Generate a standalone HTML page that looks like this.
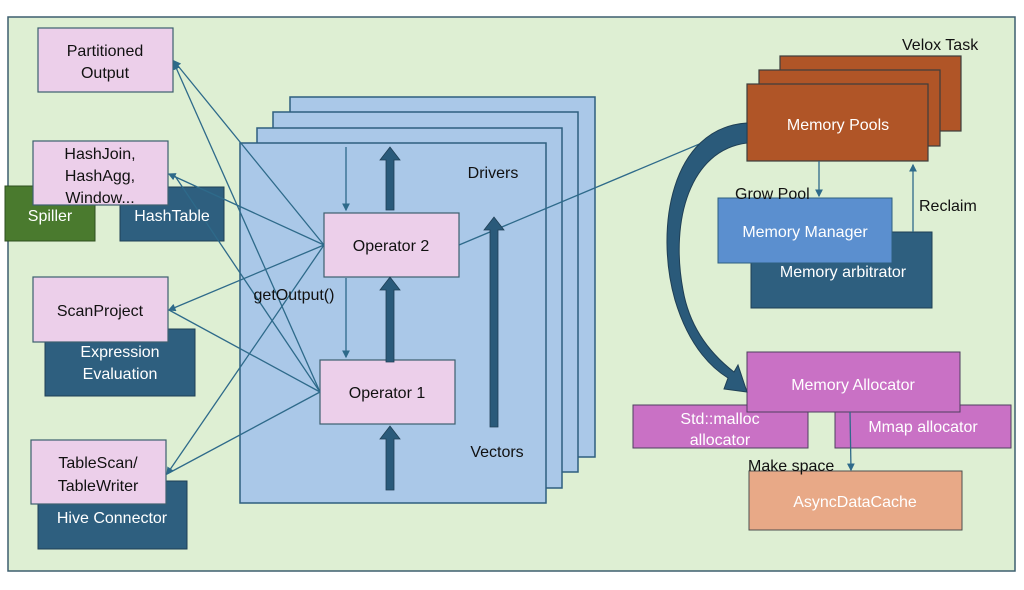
<!DOCTYPE html>
<html><head><meta charset="utf-8"><style>
body{margin:0;background:#fff;}
svg{display:block;font-family:"Liberation Sans",sans-serif;}
</style></head><body>
<svg width="1024" height="590" viewBox="0 0 1024 590">
<defs>
<marker id="a" markerWidth="6" markerHeight="6" refX="5" refY="3" orient="auto"><path d="M0,0 L6,3 L0,6 z" fill="#2e6a8a"/></marker>
</defs>
<rect x="8" y="17" width="1007" height="554" fill="#deefd3" stroke="#3d5f6f" stroke-width="1.5"/>

<g fill="#aac8e8" stroke="#2e5f7f" stroke-width="1.5">
<rect x="290" y="97" width="305" height="360"/>
<rect x="273" y="112" width="305" height="360"/>
<rect x="257" y="128" width="305" height="360"/>
<rect x="240" y="143" width="306" height="360"/>
</g>

<rect x="5" y="186" width="90" height="55" fill="#4a7a2e" stroke="#2f4f1f"/>
<rect x="120" y="187" width="104" height="54" fill="#2e5f7f" stroke="#1f3f55"/>
<rect x="45" y="329" width="150" height="67" fill="#2e5f7f" stroke="#1f3f55"/>
<rect x="38" y="481" width="149" height="68" fill="#2e5f7f" stroke="#1f3f55"/>
<g fill="#eccfea" stroke="#3d5f6f" stroke-width="1.2">
<rect x="38" y="28" width="135" height="64"/>
<rect x="33" y="141" width="135" height="64"/>
<rect x="33" y="277" width="135" height="65"/>
<rect x="31" y="440" width="135" height="64"/>
<rect x="324" y="213" width="135" height="64"/>
<rect x="320" y="360" width="135" height="64"/>
</g>

<g stroke="#2e6a8a" stroke-width="1.3" fill="none">
<line x1="324" y1="245" x2="174" y2="61" marker-end="url(#a)"/>
<line x1="320" y1="392" x2="174" y2="63" marker-end="url(#a)"/>
<line x1="324" y1="245" x2="169" y2="174" marker-end="url(#a)"/>
<line x1="320" y1="392" x2="175" y2="176"/>
<line x1="324" y1="245" x2="169" y2="310" marker-end="url(#a)"/>
<line x1="320" y1="392" x2="169" y2="310"/>
<line x1="324" y1="245" x2="167" y2="474" marker-end="url(#a)"/>
<line x1="320" y1="392" x2="167" y2="474"/>
<line x1="459" y1="245" x2="747" y2="124"/>
<line x1="346" y1="147" x2="346" y2="210" marker-end="url(#a)"/>
<line x1="346" y1="278" x2="346" y2="357" marker-end="url(#a)"/>
</g>

<g fill="#2a5a7a" stroke="#1f3f55" stroke-width="0.8">
<path d="M386,210 L386,160 L380,160 L390,147 L400,160 L394,160 L394,210 z"/>
<path d="M386,362 L386,290 L380,290 L390,277 L400,290 L394,290 L394,362 z"/>
<path d="M386,490 L386,439 L380,439 L390,426 L400,439 L394,439 L394,490 z"/>
<path d="M490,427 L490,230 L484,230 L494,217 L504,230 L498,230 L498,427 z"/>
</g>

<g font-size="16" text-anchor="middle" fill="#111">
<text x="105" y="56">Partitioned</text><text x="105" y="78">Output</text>
<text x="100" y="159">HashJoin,</text><text x="100" y="181">HashAgg,</text><text x="100" y="203">Window...</text>
<text x="100" y="316">ScanProject</text>
<text x="98" y="468">TableScan/</text><text x="98" y="491">TableWriter</text>
<text x="391" y="251">Operator 2</text>
<text x="387" y="398">Operator 1</text>
<text x="493" y="178">Drivers</text>
<text x="497" y="457">Vectors</text>
<text x="294" y="300">getOutput()</text>
</g>
<g font-size="16" text-anchor="middle" fill="#fff">
<text x="50" y="221">Spiller</text>
<text x="172" y="221">HashTable</text>
<text x="120" y="357">Expression</text><text x="120" y="379">Evaluation</text>
<text x="112" y="523">Hive Connector</text>
</g>

<g fill="#b05527" stroke="#3d3d3d" stroke-width="1.2">
<rect x="780" y="56" width="181" height="75"/>
<rect x="759" y="70" width="181" height="76"/>
<rect x="747" y="84" width="181" height="77"/>
</g>
<rect x="751" y="232" width="181" height="76" fill="#2e5f7f" stroke="#1f3f55"/>
<rect x="718" y="198" width="174" height="65" fill="#5b8fcf" stroke="#2e5f7f"/>
<rect x="633" y="405" width="175" height="43" fill="#c971c5" stroke="#4f3f5f"/>
<rect x="835" y="405" width="176" height="43" fill="#c971c5" stroke="#4f3f5f"/>
<rect x="747" y="352" width="213" height="60" fill="#c971c5" stroke="#4f3f5f"/>
<rect x="749" y="471" width="213" height="59" fill="#e8a987" stroke="#4f4f4f"/>

<path d="M747,123 C670,128 655,230 675,300 C690,350 715,370 728,378 L724,389 L747,392 L738,365 L734,372 C712,355 690,330 683,290 C670,220 690,150 747,143 z" fill="#2a5a7a" stroke="#1f3f55" stroke-width="1"/>

<g stroke="#2e6a8a" stroke-width="1.3" fill="none">
<line x1="819" y1="161" x2="819" y2="196" marker-end="url(#a)"/>
<line x1="913" y1="232" x2="913" y2="165" marker-end="url(#a)"/>
<line x1="850" y1="412" x2="851" y2="470" marker-end="url(#a)"/>
</g>

<g font-size="16" fill="#111">
<text x="902" y="50">Velox Task</text>
<text x="735" y="199">Grow Pool</text>
<text x="919" y="211">Reclaim</text>
<text x="748" y="471">Make space</text>
</g>
<g font-size="16" fill="#fff" text-anchor="middle">
<text x="838" y="130">Memory Pools</text>
<text x="805" y="237">Memory Manager</text>
<text x="843" y="277">Memory arbitrator</text>
<text x="853" y="390">Memory Allocator</text>
<text x="720" y="424">Std::malloc</text><text x="720" y="445">allocator</text>
<text x="923" y="432">Mmap allocator</text>
<text x="855" y="507">AsyncDataCache</text>
</g>
</svg>
</body></html>
